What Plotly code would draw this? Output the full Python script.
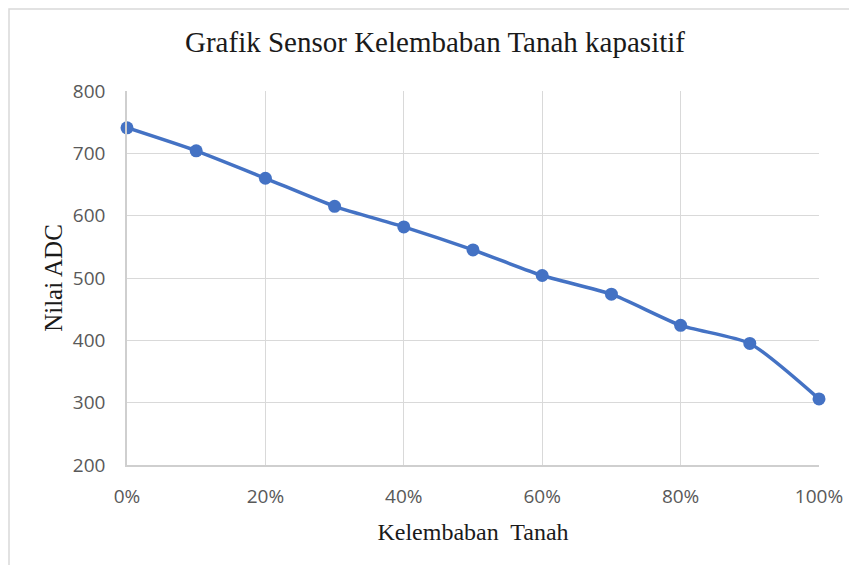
import plotly.graph_objects as go

kelembaban = [0.0, 0.1, 0.2, 0.3, 0.4, 0.5, 0.6, 0.7, 0.8, 0.9, 1.0]
nilai_adc = [741, 704, 660, 615, 582, 545, 504, 474, 424, 395, 306]
x_ticks = [0.0, 0.2, 0.4, 0.6, 0.8, 1.0]
y_ticks = [200, 300, 400, 500, 600, 700, 800]

OFF = 8  # page body margin
W, H = 857 - OFF, 565 - OFF
L, T = 127 - OFF, 91 - OFF
pw, ph = 692, 374
R, B = W - L - pw, H - T - ph

fig = go.Figure()
fig.add_trace(go.Scatter(
    x=kelembaban, y=nilai_adc, mode="lines+markers",
    line=dict(color="#4472C4", width=3.5, shape="spline", smoothing=0.6),
    marker=dict(color="#4472C4", size=13),
    cliponaxis=False, showlegend=False,
))

fig.update_layout(
    width=W, height=H,
    margin=dict(l=L, r=R, t=T, b=B),
    paper_bgcolor="white", plot_bgcolor="white",
    title=dict(text="Grafik Sensor Kelembaban Tanah kapasitif",
               font=dict(family="Liberation Serif", size=29, color="#1a1a1a"),
               x=(435 - OFF) / W, xanchor="center", xref="container",
               y=1 - (42 - OFF) / H, yanchor="middle", yref="container"),
    xaxis=dict(range=[0, 1], tickvals=x_ticks, tickformat=".0%",
               showgrid=True, gridcolor="#d9d9d9", gridwidth=1.3,
               showline=True, linecolor="#cfcfcf", linewidth=1.5,
               zeroline=False, ticks="", ticklabelstandoff=13,
               tickfont=dict(family="Open Sans", size=19, color="#595959"),
               title=dict(text="Kelembaban  Tanah", standoff=16,
                          font=dict(family="Liberation Serif", size=24, color="#1a1a1a"))),
    yaxis=dict(range=[200, 800], tickvals=y_ticks,
               showgrid=True, gridcolor="#d9d9d9", gridwidth=1.3,
               showline=True, linecolor="#cfcfcf", linewidth=1.5,
               zeroline=False, ticks="", ticklabelstandoff=16,
               tickfont=dict(family="Open Sans", size=19, color="#595959"),
               title=dict(text="Nilai ADC", standoff=3,
                          font=dict(family="Liberation Serif", size=25, color="#1a1a1a"))),
)

# outer chart border
fig.add_shape(type="rect", xref="paper", yref="paper",
              x0=(9 - 127) / pw, x1=(857 + 5 - 127) / pw,
              y0=-(565 + 5 - 465) / ph, y1=1 + (91 - 9) / ph,
              line=dict(color="#d9d9d9", width=1.5), fillcolor="rgba(0,0,0,0)", layer="below")

fig.write_html("out.html")
